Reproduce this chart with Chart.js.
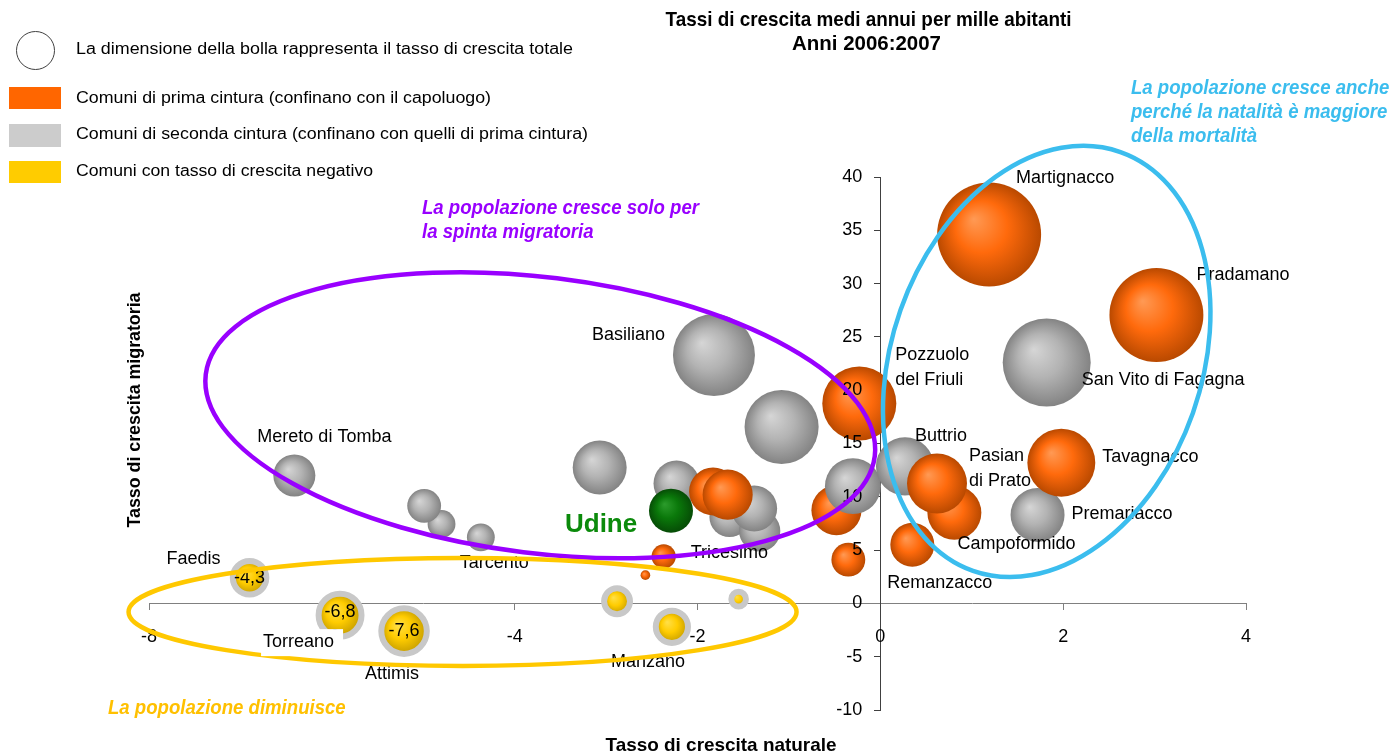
<!DOCTYPE html>
<html lang="it">
<head>
<meta charset="UTF-8">
<title>Tassi di crescita medi annui per mille abitanti</title>
<script src="https://cdn.jsdelivr.net/npm/chart.js@4.4.1/dist/chart.umd.min.js"></script>
<style>
    html, body { margin: 0; padding: 0; background: #fff; overflow: hidden; }
    /* un po' più alto della finestra: la bolla più grande riserva 53px di margine */
    .wrap { position: relative; width: 1398px; height: 763px; }
</style>
</head>
<body>
<div class="wrap"><canvas id="grafico"></canvas></div>
<script>
    // Comuni di prima cintura
    var primaNomi = ['Martignacco', 'Pradamano', 'Pozzuolo\ndel Friuli', 'Tavagnacco', 'Pasian\ndi Prato',
        'Campoformido', 'Remanzacco', '', '', '', '', '', ''];
    var primaNaturale = [1.19, 3.02, -0.23, 1.98, 0.62, 0.81, 0.35, -0.48, -0.35, -1.83, -1.67, -2.37, -2.57];
    var primaMigratoria = [34.6, 27.05, 18.75, 13.2, 11.25, 8.5, 5.5, 8.75, 4.1, 10.5, 10.2, 4.4, 2.65];
    var primaTotale = [34.9, 28.5, 17.7, 14.9, 11.6, 9.4, 6.25, 8.1, 3.7, 7.4, 8.1, 1.9, 0.3];

    // Comuni di seconda cintura
    var secondaNomi = ['San Vito di Fagagna', 'Basiliano', '', '', '', '', '', 'Tricesimo', '', 'Buttrio',
        'Premariacco', 'Mereto di Tomba', '', '', 'Tarcento'];
    var secondaNaturale = [1.82, -1.82, -1.08, -3.07, -2.23, -1.65, -1.38, -1.32, -0.30, 0.27, 1.72, -6.41, -4.99, -4.80, -4.37];
    var secondaMigratoria = [22.6, 23.3, 16.55, 12.75, 11.25, 8.1, 8.9, 6.8, 11.0, 12.85, 8.3, 12.0, 9.15, 7.45, 6.2];
    var secondaTotale = [25.0, 21.7, 17.7, 9.4, 6.8, 5.2, 6.8, 5.5, 10.1, 10.9, 9.4, 5.7, 3.7, 2.5, 2.5];

    // Comuni con tasso di crescita negativo
    var negativiNomi = ['Faedis', 'Torreano', 'Attimis', '', 'Manzano', ''];
    var negativiNaturale = [-6.90, -5.91, -5.21, -2.88, -2.28, -1.55];
    var negativiMigratoria = [2.4, -1.1, -2.6, 0.2, -2.2, 0.4];
    var negativiTotale = [-4.3, -6.8, -7.6, -2.7, -4.0, -1.0];
    var valoriMostrati = ['Faedis', 'Torreano', 'Attimis'];

    // Capoluogo
    var udine = { nome: 'Udine', naturale: -2.29, migratoria: 8.7, totale: 6.25 };

    var tickX = { min: -8, max: 4, passo: 2 };
    var tickY = { min: -10, max: 40, passo: 5 };

    var titolo = ['Tassi di crescita medi annui per mille abitanti', 'Anni 2006:2007'];
    var titoloX = 'Tasso di crescita naturale';
    var titoloY = 'Tasso di crescita migratoria';
    var legenda = [
        'La dimensione della bolla rappresenta il tasso di crescita totale',
        'Comuni di prima cintura (confinano con il capoluogo)',
        'Comuni di seconda cintura (confinano con quelli di prima cintura)',
        'Comuni con tasso di crescita negativo'
    ];
    var notaViola = ['La popolazione cresce solo per', 'la spinta migratoria'];
    var notaAzzurra = ['La popolazione cresce anche', 'perché la natalità è maggiore', 'della mortalità'];
    var notaGialla = ['La popolazione diminuisce'];

    // --- stile ---
    var FONT = '"Liberation Sans", Arial, sans-serif';
    var colori = {
        prima: ['#FF9A55', '#FF6A0C', '#B94900'],
        seconda: ['#D6D6D6', '#B3B3B3', '#838383'],
        negativo: ['#FFE04A', '#FFCC00', '#C49C00'],
        udine: ['#2C9C2C', '#0A780A', '#064C06']
    };
    // posizione delle etichette rispetto al centro della bolla (px)
    var posEtichette = {
        'Martignacco': [27, -57], 'Pradamano': [40, -40], 'San Vito di Fagagna': [35, 18],
        'Pozzuolo\ndel Friuli': [36, -48], 'Buttrio': [10, -30], 'Pasian\ndi Prato': [32, -27],
        'Tavagnacco': [41, -6], 'Premariacco': [34, -1], 'Campoformido': [3, 31], 'Remanzacco': [-25, 38],
        'Basiliano': [-122, -20], 'Mereto di Tomba': [-37, -38], 'Faedis': [-83, -19], 'Tarcento': [-21, 26],
        'Torreano': [-77, 27], 'Attimis': [-39, 43], 'Manzano': [-61, 35], 'Tricesimo': [-69, 22],
        'Udine': [-106, 14]
    };
    // ellissi: centro in unità del grafico, semiassi in px, rotazione in gradi
    var ellissi = [
        { cx: -3.72, cy: 17.65, rx: 337, ry: 138, rot: 7, col: '#9900FF' },
        { cx: -4.57, cy: -0.8, rx: 334, ry: 54, rot: 0, col: '#FFC800' },
        { cx: 1.82, cy: 22.7, rx: 155, ry: 222, rot: 19.4, col: '#3BBDEE' }
    ];

    function raggio(t) { return 8.8 * Math.sqrt(Math.abs(t)); }

    function sfumatura(c, stops) {
        var chart = c.chart, p = c.raw;
        if (!chart.chartArea || !p) return stops[1];
        var px = chart.scales.x.getPixelForValue(p.x), py = chart.scales.y.getPixelForValue(p.y);
        var r = Math.max(p.r, 1);
        var g = chart.ctx.createRadialGradient(px - 0.3 * r, py - 0.3 * r, 0, px, py, r);
        g.addColorStop(0, stops[0]);
        g.addColorStop(0.5, stops[1]);
        g.addColorStop(1, stops[2]);
        return g;
    }

    // punti positivi: prima e seconda cintura insieme, le bolle grandi sopra
    var positivi = [];
    primaNomi.forEach(function (n, i) {
        positivi.push({ x: primaNaturale[i], y: primaMigratoria[i], t: primaTotale[i], nome: n, cat: 'prima' });
    });
    secondaNomi.forEach(function (n, i) {
        positivi.push({ x: secondaNaturale[i], y: secondaMigratoria[i], t: secondaTotale[i], nome: n, cat: 'seconda' });
    });
    positivi.sort(function (a, b) { return a.t - b.t; });
    positivi.forEach(function (p) { p.r = raggio(p.t); });

    var negativi = negativiNomi.map(function (n, i) {
        return { x: negativiNaturale[i], y: negativiMigratoria[i], t: negativiTotale[i], nome: n, cat: 'negativo',
            r: raggio(negativiTotale[i]) - 1.5 };
    });

    var capoluogo = [{ x: udine.naturale, y: udine.migratoria, t: udine.totale, nome: udine.nome, cat: 'udine',
        r: raggio(udine.totale) }];

    function scritta(ctx, testo, x, y, o) {
        ctx.save();
        ctx.font = o.font;
        ctx.fillStyle = o.color || '#000';
        ctx.textBaseline = 'middle';
        ctx.textAlign = o.align || 'left';
        var sx = o.sx || 1;
        if (o.width) sx = o.width / ctx.measureText(testo).width;
        ctx.translate(x, y);
        if (o.rot) ctx.rotate(o.rot);
        ctx.scale(sx, 1);
        ctx.fillText(testo, 0, 0);
        ctx.restore();
    }

    var decorazioni = {
        id: 'decorazioni',
        afterDatasetsDraw: function (chart) {
            var ctx = chart.ctx, sx = chart.scales.x, sy = chart.scales.y;
            var torreano = null;

            // etichette degli assi (sopra le bolle, staccate dagli assi)
            var ax = sx.getPixelForValue(0), ay = sy.getPixelForValue(0);
            sy.ticks.forEach(function (t) {
                scritta(ctx, String(t.value), ax - 18, sy.getPixelForValue(t.value), { font: '18px ' + FONT, align: 'right' });
            });
            sx.ticks.forEach(function (t) {
                scritta(ctx, String(t.value), sx.getPixelForValue(t.value), ay + 34, { font: '18px ' + FONT, align: 'center' });
            });

            // etichette delle bolle
            chart.data.datasets.forEach(function (ds, di) {
                var meta = chart.getDatasetMeta(di);
                ds.data.forEach(function (p, i) {
                    var el = meta.data[i];
                    if (p.cat === 'negativo' && valoriMostrati.indexOf(p.nome) >= 0) {
                        scritta(ctx, p.t.toFixed(1).replace('.', ','), el.x, el.y - (p.nome === 'Torreano' ? 3 : 0),
                            { font: '18px ' + FONT, align: 'center' });
                    }
                    if (!p.nome || !posEtichette[p.nome]) return;
                    var off = posEtichette[p.nome];
                    if (p.nome === 'Torreano') { torreano = [el.x + off[0], el.y + off[1]]; return; }
                    if (p.cat === 'udine') {
                        scritta(ctx, p.nome, el.x + off[0], el.y + off[1], { font: 'bold 26px ' + FONT, color: '#0B8A0B' });
                        return;
                    }
                    p.nome.split('\n').forEach(function (riga, k) {
                        scritta(ctx, riga, el.x + off[0], el.y + off[1] + k * 25, { font: '18px ' + FONT });
                    });
                });
            });

            // ellissi
            ellissi.forEach(function (e) {
                ctx.save();
                ctx.strokeStyle = e.col;
                ctx.lineWidth = 4.5;
                ctx.beginPath();
                ctx.ellipse(sx.getPixelForValue(e.cx), sy.getPixelForValue(e.cy), e.rx, e.ry, e.rot * Math.PI / 180, 0, Math.PI * 2);
                ctx.stroke();
                ctx.restore();
            });

            // Torreano con fondo bianco
            if (torreano) {
                ctx.save();
                ctx.fillStyle = '#fff';
                ctx.fillRect(torreano[0] - 2, torreano[1] - 13, 82, 27);
                ctx.restore();
                scritta(ctx, 'Torreano', torreano[0], torreano[1], { font: '18px ' + FONT });
            }
        },
        afterDraw: function (chart) {
            var ctx = chart.ctx;
            // titolo
            scritta(ctx, titolo[0], 868.5, 20, { font: 'bold 21px ' + FONT, align: 'center', width: 406 });
            scritta(ctx, titolo[1], 866.5, 44, { font: 'bold 21px ' + FONT, align: 'center', width: 149 });
            // titoli assi
            scritta(ctx, titoloX, 721, 746, { font: 'bold 19px ' + FONT, align: 'center', width: 231 });
            scritta(ctx, titoloY, 135, 410, { font: 'bold 19px ' + FONT, align: 'center', width: 235, rot: -Math.PI / 2 });

            // legenda
            ctx.save();
            ctx.strokeStyle = '#404040';
            ctx.lineWidth = 1;
            ctx.beginPath();
            ctx.arc(35.5, 50.5, 19, 0, Math.PI * 2);
            ctx.stroke();
            ctx.fillStyle = '#FF6600'; ctx.fillRect(9, 87, 52, 22);
            ctx.fillStyle = '#CCCCCC'; ctx.fillRect(9, 124, 52, 23);
            ctx.fillStyle = '#FFCC00'; ctx.fillRect(9, 161, 52, 22);
            ctx.restore();
            var legY = [50, 99, 135, 172], legW = [497, 415, 512, 297];
            legenda.forEach(function (t, i) {
                scritta(ctx, t, 76, legY[i], { font: '16px ' + FONT, width: legW[i] });
            });

            // note
            var fn = 'italic bold 20px ' + FONT;
            notaViola.forEach(function (t, i) { scritta(ctx, t, 422, 208 + i * 24, { font: fn, color: '#9900FF', sx: 0.93 }); });
            notaAzzurra.forEach(function (t, i) { scritta(ctx, t, 1131, 88 + i * 24, { font: fn, color: '#3BBDEE', sx: 0.93 }); });
            notaGialla.forEach(function (t) { scritta(ctx, t, 108, 708, { font: fn, color: '#FFC000', sx: 0.93 }); });
        }
    };

    var assi = {
        x: {
            type: 'linear', position: { y: 0 }, min: tickX.min, max: tickX.max,
            ticks: { stepSize: tickX.passo, display: false, font: { family: FONT, size: 18 } },
            grid: { drawOnChartArea: false, drawTicks: true, tickLength: 6, color: '#808080' },
            border: { display: true, color: '#808080', width: 1 }
        },
        y: {
            type: 'linear', position: { x: 0 }, min: tickY.min, max: tickY.max,
            ticks: { stepSize: tickY.passo, display: false, font: { family: FONT, size: 18 } },
            grid: { drawOnChartArea: false, drawTicks: true, tickLength: 6, color: '#404040' },
            border: { display: true, color: '#404040', width: 1 }
        }
    };

    new Chart(document.getElementById('grafico'), {
        type: 'bubble',
        data: {
            datasets: [
                {
                    label: 'Udine', data: capoluogo, order: 0, clip: false, borderWidth: 0,
                    backgroundColor: function (c) { return sfumatura(c, colori.udine); }
                },
                {
                    label: 'Negativi', data: negativi, order: 1, clip: false, borderWidth: 6, borderColor: '#C8C8C8',
                    backgroundColor: function (c) { return sfumatura(c, colori.negativo); }
                },
                {
                    label: 'Cinture', data: positivi, order: 2, clip: false, borderWidth: 0,
                    backgroundColor: function (c) { return sfumatura(c, colori[c.raw ? c.raw.cat : 'prima']); }
                }
            ]
        },
        options: {
            responsive: true,
            maintainAspectRatio: false,
            animation: false,
            events: [],
            layout: { padding: { left: 149, right: 152, top: 177, bottom: 53 } },
            plugins: { legend: { display: false }, tooltip: { enabled: false }, title: { display: false } },
            scales: assi
        },
        plugins: [decorazioni]
    });
</script>
</body>
</html>
